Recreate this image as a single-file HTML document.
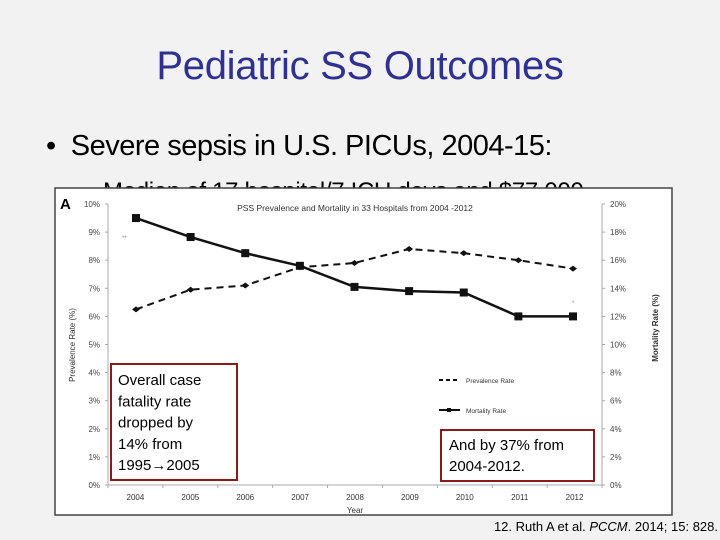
<!DOCTYPE html>
<html><head><meta charset="utf-8"><style>
body{margin:0;width:720px;height:540px;background:#f2f2f2;position:relative;overflow:hidden;font-family:"Liberation Sans",sans-serif}
.t{position:absolute;white-space:nowrap}
</style></head><body>
<div class="t" style="left:0;width:720px;text-align:center;top:44px;font-size:40px;color:#2e3192;letter-spacing:-0.3px">Pediatric SS Outcomes</div>
<div class="t" style="left:46px;top:130px;font-size:29px;color:#000;letter-spacing:-0.5px">•&nbsp; Severe sepsis in U.S. PICUs, 2004-15:</div>
<div class="t" style="left:103px;top:178px;font-size:24px;color:#000;letter-spacing:-0.3px">Median of 17 hospital/7 ICU days and $77,000</div>
<svg width="720" height="540" style="position:absolute;left:0;top:0" font-family="Liberation Sans, sans-serif">
<rect x="55" y="188" width="617" height="327" fill="#fff" stroke="#444" stroke-width="1.5"/>
<g id="g"></g>
</svg>
<div class="t" style="right:2px;top:519px;font-size:13px;color:#000">12. Ruth A et al. <i>PCCM</i>. 2014; 15: 828.</div>
<script>
const years=['2004','2005','2006','2007','2008','2009','2010','2011','2012'];
const prevalence=[6.25,6.95,7.1,7.75,7.9,8.4,8.25,8.0,7.7];
const mortality=[19.0,17.65,16.5,15.6,14.1,13.8,13.7,12.0,12.0];
const leftTicks=[0,1,2,3,4,5,6,7,8,9,10];
const rightTicks=[0,2,4,6,8,10,12,14,16,18,20];
const NS='http://www.w3.org/2000/svg',g=document.getElementById('g');
const X0=136,X1=573,Y0=485,Y1=204;
const xs=i=>X0+(X1-X0)*i/(years.length-1);
const yl=v=>Y0-(Y0-Y1)*v/10, yr=v=>Y0-(Y0-Y1)*v/20;
function el(t,a,txt){const e=document.createElementNS(NS,t);for(const k in a)e.setAttribute(k,a[k]);if(txt!=null)e.textContent=txt;g.appendChild(e);return e;}
let e;
e=el('line',{x1:108,y1:Y1,x2:108,y2:Y0,stroke:'#aaa'});
e=el('line',{x1:602,y1:Y1,x2:602,y2:Y0,stroke:'#aaa'});
e=el('line',{x1:108,y1:Y0,x2:602,y2:Y0,stroke:'#aaa'});
leftTicks.forEach(v=>{el('line',{x1:105,x2:108,y1:yl(v),y2:yl(v),stroke:'#aaa'});
e=el('text',{x:100,y:yl(v)+3,'font-size':8,'text-anchor':'end',fill:'#444'},v+'%');});
rightTicks.forEach(v=>{el('line',{x1:602,x2:605,y1:yr(v),y2:yr(v),stroke:'#aaa'});
e=el('text',{x:610,y:yr(v)+3,'font-size':8,fill:'#444'},v+'%');});
for(let i=0;i<=years.length;i++){const x=108+(602-108)*i/years.length;el('line',{x1:x,x2:x,y1:Y0,y2:Y0+3,stroke:'#aaa'});}
years.forEach((y,i)=>{e=el('text',{x:108+(602-108)*(i+0.5)/years.length,y:500,'font-size':8,'text-anchor':'middle',fill:'#333'},y);});
e=el('text',{x:355,y:513,'font-size':8,'text-anchor':'middle',fill:'#333'},'Year');
e=el('text',{x:75,y:345,'font-size':8,'text-anchor':'middle',fill:'#333',transform:'rotate(-90 75 345)'},'Prevalence  Rate (%)');
e=el('text',{x:658,y:328,'font-size':8,'font-weight':'bold','text-anchor':'middle',fill:'#333',transform:'rotate(-90 658 328)'},'Mortality Rate (%)');
e=el('text',{x:355,y:211,'font-size':8.5,'text-anchor':'middle',fill:'#333'},'PSS Prevalence and Mortality in 33 Hospitals from 2004 -2012');
e=el('text',{x:60,y:209,'font-size':15,'font-weight':'bold',fill:'#000'},'A');
e=el('polyline',{points:prevalence.map((v,i)=>xs(i)+','+yl(v)).join(' '),fill:'none',stroke:'#111','stroke-width':2,'stroke-dasharray':'7,5'});
prevalence.forEach((v,i)=>{e=el('path',{d:`M${xs(i)-4},${yl(v)}L${xs(i)},${yl(v)-3}L${xs(i)+4},${yl(v)}L${xs(i)},${yl(v)+3}Z`,fill:'#111'});});
e=el('polyline',{points:mortality.map((v,i)=>xs(i)+','+yr(v)).join(' '),fill:'none',stroke:'#111','stroke-width':2.5});
mortality.forEach((v,i)=>{e=el('rect',{x:xs(i)-4,y:yr(v)-4,width:8,height:8,fill:'#111'});});
el('text',{x:122,y:240,'font-size':6,fill:'#888'},'**');el('text',{x:572,y:305,'font-size':6,fill:'#888'},'*');
e=el('line',{x1:439,x2:460,y1:380,y2:380,stroke:'#111','stroke-width':2,'stroke-dasharray':'4,3'});
e=el('text',{x:466,y:383,'font-size':6.5,fill:'#333'},'Prevalence Rate');
e=el('line',{x1:439,x2:460,y1:410,y2:410,stroke:'#111','stroke-width':2});
el('rect',{x:447,y:408,width:4,height:4,fill:'#111'});
e=el('text',{x:466,y:413,'font-size':6.5,fill:'#333'},'Mortality Rate');
e=el('rect',{x:111,y:364,width:126,height:116,fill:'#fff',stroke:'#8b1a1a','stroke-width':2});
['Overall case','fatality rate','dropped by','14% from','1995\u21922005'].forEach((s,i)=>{e=el('text',{x:118,y:385+i*21.3,'font-size':15,fill:'#000'},s);});
e=el('rect',{x:441,y:430,width:153,height:51,fill:'#fff',stroke:'#8b1a1a','stroke-width':2});
['And by 37% from','2004-2012.'].forEach((s,i)=>{e=el('text',{x:449,y:450+i*21,'font-size':15,fill:'#000'},s);});
</script>
</body></html>
